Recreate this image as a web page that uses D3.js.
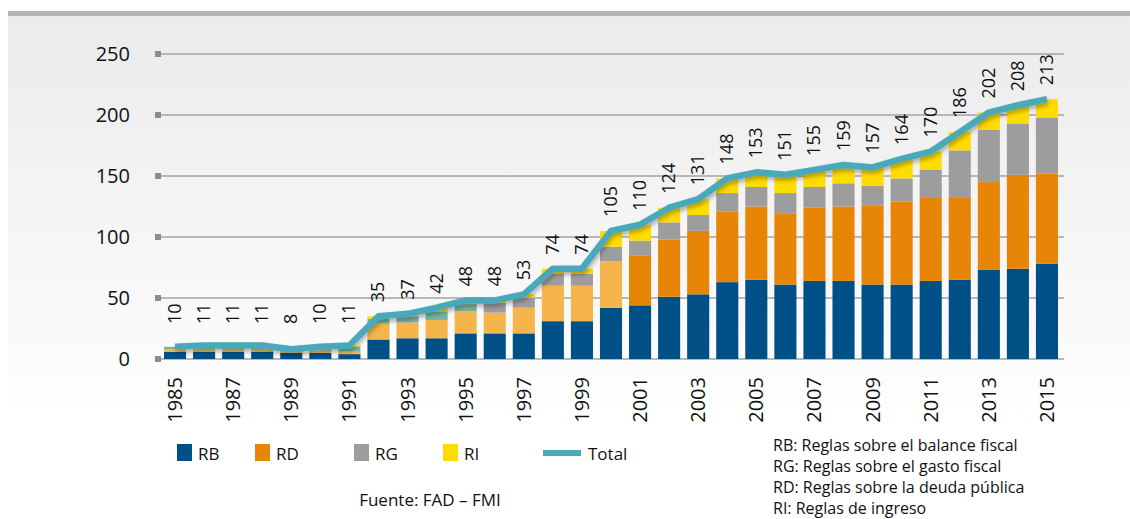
<!DOCTYPE html>
<html>
<head>
<meta charset="utf-8">
<script src="https://cdn.jsdelivr.net/npm/d3@7/dist/d3.min.js"></script>
<style>
  body { margin: 0; background: #fff; }
  svg { display: block; font-family: "Open Sans", sans-serif; }
</style>
</head>
<body>
<div id="chart"></div>
<script>
// data
const years = [1985, 1986, 1987, 1988, 1989, 1990, 1991, 1992, 1993, 1994, 1995, 1996, 1997, 1998, 1999, 2000,
               2001, 2002, 2003, 2004, 2005, 2006, 2007, 2008, 2009, 2010, 2011, 2012, 2013, 2014, 2015];
const rb = [6, 6, 6, 6, 5, 5, 4, 16, 17, 17, 21, 21, 21, 31, 31, 42, 44, 51, 53, 63, 65, 61, 64, 64, 61, 61, 64, 65, 73, 74, 78];
const rd = [2, 2, 2, 2, 1, 2, 2, 13, 13, 15, 18, 17, 21, 29, 29, 38, 41, 47, 52, 58, 60, 58, 60, 61, 65, 68, 68, 67, 72, 77, 74];
const rg = [2, 3, 3, 3, 2, 3, 4, 4, 5, 7, 6, 8, 8, 10, 10, 12, 12, 14, 13, 15, 16, 17, 17, 19, 16, 19, 23, 39, 43, 42, 46];
const ri = [0, 0, 0, 0, 0, 0, 1, 2, 2, 3, 3, 2, 3, 4, 4, 13, 13, 12, 13, 12, 12, 15, 14, 15, 15, 16, 15, 15, 14, 15, 15];
const totals = [10, 11, 11, 11, 8, 10, 11, 35, 37, 42, 48, 48, 53, 74, 74, 105, 110, 124, 131, 148, 153, 151, 155, 159, 157, 164, 170, 186, 202, 208, 213];
const yTicks = [0, 50, 100, 150, 200, 250];
const yearTicks = [1985, 1987, 1989, 1991, 1993, 1995, 1997, 1999, 2001, 2003, 2005, 2007, 2009, 2011, 2013, 2015];
const legendItems = ["RB", "RD", "RG", "RI", "Total"];
const notes = ["RB: Reglas sobre el balance fiscal", "RG: Reglas sobre el gasto fiscal",
               "RD: Reglas sobre la deuda pública", "RI: Reglas de ingreso"];

const W = 1130, H = 519;
const svg = d3.select("#chart").append("svg")
    .attr("width", W)
    .attr("height", H);

const defs = svg.append("defs");
const grad = defs.append("linearGradient")
    .attr("id", "bg").attr("x1", 0).attr("y1", 0).attr("x2", 0).attr("y2", 1);
grad.append("stop").attr("offset", "0%").attr("stop-color", "#ebebeb");
grad.append("stop").attr("offset", "85%").attr("stop-color", "#fbfbfb");
grad.append("stop").attr("offset", "100%").attr("stop-color", "#ffffff");

const shadow = defs.append("filter").attr("id", "shadow")
    .attr("x", "-5%").attr("y", "-20%").attr("width", "110%").attr("height", "160%");
shadow.append("feDropShadow")
    .attr("dx", 1).attr("dy", 3).attr("stdDeviation", 2)
    .attr("flood-color", "#000").attr("flood-opacity", 0.3);

// background panel
svg.append("rect").attr("x", 8).attr("y", 16).attr("width", W - 8).attr("height", 400).attr("fill", "url(#bg)");
svg.append("rect").attr("x", 8).attr("y", 11).attr("width", W - 8).attr("height", 5).attr("fill", "#b3b3b3");

const x = d3.scaleBand()
    .domain(years)
    .range([160.5, 1061.5])
    .paddingInner(0.24)
    .paddingOuter(0.12);

const y = d3.scaleLinear()
    .domain([0, 250])
    .range([359, 54]);

// gridlines + square tick marks
const grid = svg.append("g");
grid.selectAll("line").data(yTicks).enter().append("line")
    .attr("x1", 158).attr("x2", 1064)
    .attr("y1", d => y(d)).attr("y2", d => y(d))
    .attr("stroke", "#a3a3a3").attr("stroke-width", 1.5);
grid.selectAll("rect").data(yTicks).enter().append("rect")
    .attr("x", 155).attr("y", d => y(d) - 3)
    .attr("width", 6).attr("height", 6)
    .attr("fill", "#8c8c8c");
grid.selectAll("text").data(yTicks).enter().append("text")
    .attr("x", 130).attr("y", d => y(d) + 7)
    .attr("text-anchor", "end")
    .style("font-size", "20px")
    .attr("fill", "#111")
    .text(d => d);

// stacked bars
const keys = ["rb", "rd", "rg", "ri"];
const rows = years.map((yr, i) => ({ year: yr, rb: rb[i], rd: rd[i], rg: rg[i], ri: ri[i] }));
const stack = d3.stack().keys(keys)(rows);

function fillFor(key, yr) {
    if (key === "rb") return "#005088";
    if (key === "rd") return yr <= 2000 ? "#f6b54b" : "#e78506";
    if (key === "rg") return yr <= 1995 ? "#79b3a6" : "#9d9d9d";
    return "#ffdc00";
}

svg.append("g").selectAll("g")
    .data(stack)
    .enter().append("g")
    .selectAll("rect")
    .data(s => s.map(d => ({ key: s.key, year: d.data.year, y0: d[0], y1: d[1] })))
    .enter().append("rect")
    .attr("x", d => x(d.year))
    .attr("width", x.bandwidth())
    .attr("y", d => y(d.y1))
    .attr("height", d => y(d.y0) - y(d.y1))
    .attr("fill", d => fillFor(d.key, d.year));

// total line
const line = d3.line()
    .x((d, i) => x(years[i]) + x.bandwidth() / 2)
    .y(d => y(d));

svg.append("path")
    .datum(totals)
    .attr("d", line)
    .attr("fill", "none")
    .attr("stroke", "#4aa9bb")
    .attr("stroke-width", 6.5)
    .attr("stroke-linejoin", "round")
    .attr("filter", "url(#shadow)");

// value labels (rotated); the small early ones sit a bit higher
svg.append("g").selectAll("text")
    .data(totals)
    .enter().append("text")
    .attr("transform", (d, i) => "translate(" + (x(years[i]) + x.bandwidth() / 2 + 6) + "," + Math.min(y(d) - 14, 324) + ") rotate(-90)")
    .attr("text-anchor", "start")
    .style("font-size", "18px")
    .attr("fill", "#111")
    .text(d => d);

// year labels (rotated)
svg.append("g").selectAll("text")
    .data(yearTicks)
    .enter().append("text")
    .attr("transform", d => "translate(" + (x(d) + x.bandwidth() / 2 + 7) + ",377) rotate(-90)")
    .attr("text-anchor", "end")
    .style("font-size", "20px")
    .attr("fill", "#111")
    .text(d => d);

// legend
const legendX = [177, 255, 354, 443, 543];
const legendColors = ["#005088", "#e78506", "#9d9d9d", "#ffdc00", "#4aa9bb"];
const legend = svg.append("g").selectAll("g")
    .data(legendItems)
    .enter().append("g")
    .attr("transform", (d, i) => "translate(" + legendX[i] + ",444)");

legend.append("rect")
    .attr("y", d => d === "Total" ? 6 : 0)
    .attr("width", d => d === "Total" ? 38 : 15)
    .attr("height", d => d === "Total" ? 6 : 17)
    .attr("fill", (d, i) => legendColors[i]);

legend.append("text")
    .attr("x", d => d === "Total" ? 45 : 21)
    .attr("y", 16)
    .style("font-size", "17px")
    .attr("fill", "#111")
    .text(d => d);

svg.append("text")
    .attr("x", 430).attr("y", 506)
    .attr("text-anchor", "middle")
    .style("font-size", "17px")
    .attr("fill", "#111")
    .text("Fuente: FAD – FMI");

svg.append("g").selectAll("text")
    .data(notes)
    .enter().append("text")
    .attr("x", 773)
    .attr("y", (d, i) => 451 + i * 21)
    .style("font-size", "16px")
    .attr("fill", "#111")
    .text(d => d);
</script>
</body>
</html>
